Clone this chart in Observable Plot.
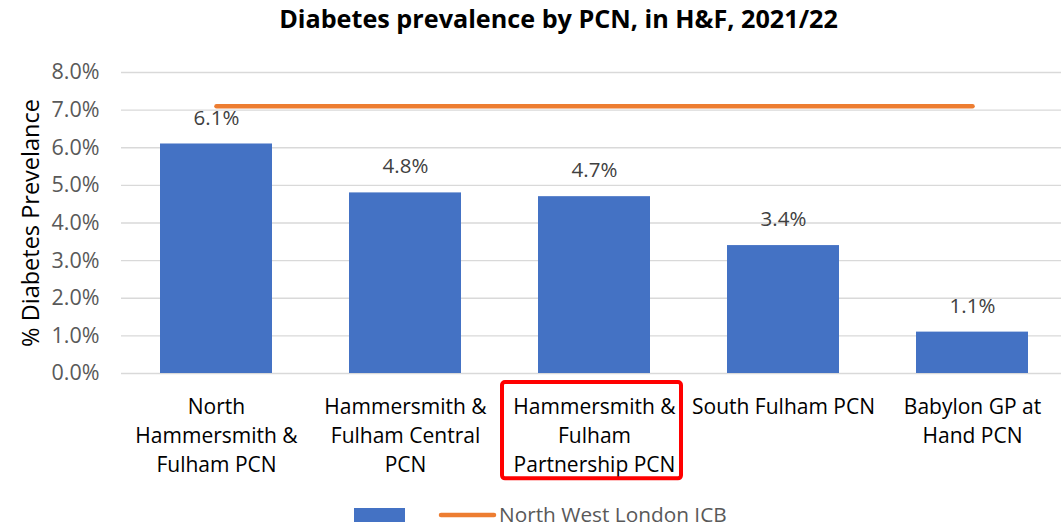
<!DOCTYPE html>
<html><head><meta charset="utf-8">
<script src="https://cdn.jsdelivr.net/npm/d3@7"></script>
<script src="https://cdn.jsdelivr.net/npm/@observablehq/plot@0.6"></script>
<style>
body{margin:0;background:#fff;font-family:"Open Sans",sans-serif;width:1061px;height:527px;overflow:hidden;}
#title{height:40px;line-height:36px;text-align:center;font-weight:bold;font-size:25.2px;color:#000;padding-left:56px;box-sizing:border-box;}
#legend{position:absolute;top:500px;left:0;width:1061px;height:27px;}
</style></head>
<body>
<div id="title">Diabetes prevalence by PCN, in H&amp;F, 2021/22</div>
<div id="chart"></div>
<div id="legend"></div>
<script>
const categories = [
  "North\nHammersmith &\nFulham PCN",
  "Hammersmith &\nFulham Central\nPCN",
  "Hammersmith &\nFulham\nPartnership PCN",
  "South Fulham PCN",
  "Babylon GP at\nHand PCN"
];
const prevalence = [6.1, 4.8, 4.7, 3.4, 1.1];
const icbValue = 7.1;
const highlighted = "Hammersmith &\nFulham\nPartnership PCN";
const yTicks = [0,1,2,3,4,5,6,7,8];
const legendLabel = "North West London ICB";

const bars = categories.map((c,i)=>({cat:c, v:prevalence[i]}));
const icb = categories.map(c=>({cat:c, v:icbValue}));
const FONT = "'Open Sans', sans-serif";

const plot = Plot.plot({
  width: 1061,
  height: 445,
  marginTop: 32,
  marginBottom: 112,
  marginLeft: 121,
  marginRight: -5,
  style: {fontFamily: FONT, fontSize: "20px", background: "#fff", overflow: "visible"},
  x: {domain: categories, paddingInner: 0.41, paddingOuter: 0.205, align: 0.5, label: null, tickSize: 0},
  y: {domain: [0, 8], ticks: yTicks, label: null, tickSize: 0},
  marks: [
    Plot.gridY(yTicks, {stroke: "#d9d9d9", strokeOpacity: 1, strokeWidth: 1.3}),
    Plot.barY(bars, {x: "cat", y: "v", fill: "#4472C4"}),
    Plot.text(bars, {x: "cat", y: "v", text: d => d.v.toFixed(1) + "%", dy: -26, fill: "#404040", fontSize: 20.5}),
    Plot.lineY(icb, {x: "cat", y: "v", stroke: "#ED7D31", strokeWidth: 4.5, strokeLinecap: "round"}),
    Plot.axisY({ticks: yTicks, tickFormat: d => d.toFixed(1) + "%", tickSize: 0, tickPadding: 22, fill: "#595959", fontSize: 21.5, label: null}),
    Plot.axisX({tickSize: 0, tickPadding: 20, fill: "#000", fontSize: 21, lineHeight: 1.38, label: null, textAnchor: "middle"}),
    Plot.barY([highlighted], {x: d => d, y1: -0.24, y2: -2.8, fill: "none", stroke: "#FF0000", strokeWidth: 4, insetLeft: -36, insetRight: -31, rx: 3}),
    Plot.text(["% Diabetes Prevelance"], {frameAnchor: "left", textAnchor: "middle", dx: -90, rotate: -90, fontSize: 23.5, fill: "#000", text: d => d})
  ]
});
document.getElementById("chart").appendChild(plot);

// legend
const lg = d3.select("#legend").append("svg").attr("width",1061).attr("height",27);
lg.append("rect").attr("x",354).attr("y",8).attr("width",51).attr("height",14).attr("fill","#4472C4");
lg.append("line").attr("x1",441).attr("x2",494).attr("y1",15).attr("y2",15).attr("stroke","#ED7D31").attr("stroke-width",4.5).attr("stroke-linecap","round");
lg.append("text").attr("x",499).attr("y",15).attr("dy","0.35em").attr("font-size",20.8).attr("fill","#595959").attr("font-family",FONT).text(legendLabel);
</script>
</body></html>
